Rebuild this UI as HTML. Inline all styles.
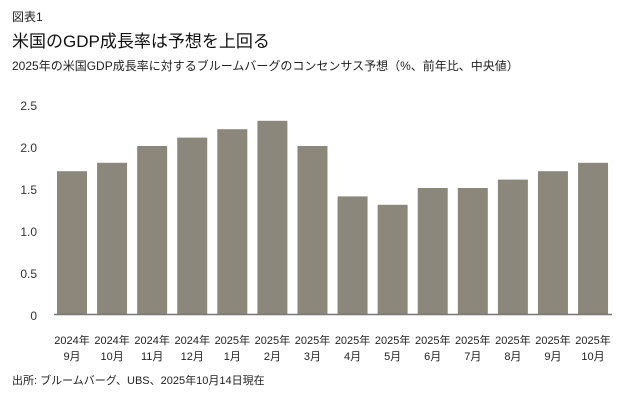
<!DOCTYPE html>
<html><head><meta charset="utf-8"><style>
body{margin:0;background:#fff;width:631px;height:403px;overflow:hidden;font-family:"Liberation Sans","Noto Sans CJK JP",sans-serif;color:#222}
</style></head><body>
<svg width="631" height="403" xmlns="http://www.w3.org/2000/svg" font-family="Liberation Sans, Noto Sans CJK JP, sans-serif">
<text x="12" y="21" font-size="12" fill="#222">図表1</text>
<text x="12" y="47" font-size="17" fill="#111">米国のGDP成長率は予想を上回る</text>
<text x="12" y="70" font-size="12" fill="#222">2025年の米国GDP成長率に対するブルームバーグのコンセンサス予想（%、前年比、中央値）</text>
<g font-size="12" fill="#333" text-anchor="end">
<text x="37" y="110">2.5</text><text x="37" y="152">2.0</text><text x="37" y="194">1.5</text>
<text x="37" y="236">1.0</text><text x="37" y="278">0.5</text><text x="37" y="320">0</text>
</g>
<g fill="#8b887b" id="bars"></g>
<line x1="54" y1="314.5" x2="612" y2="314.5" stroke="#777" stroke-width="1.5"/>
<g font-size="11" fill="#222" text-anchor="middle" id="labels"></g>
<text x="12" y="384" font-size="11" fill="#222">出所: ブルームバーグ、UBS、2025年10月14日現在</text>
<script>
var v=[1.7,1.8,2.0,2.1,2.2,2.3,2.0,1.4,1.3,1.5,1.5,1.6,1.7,1.8];
var l=[["2024年","9月"],["2024年","10月"],["2024年","11月"],["2024年","12月"],["2025年","1月"],["2025年","2月"],["2025年","3月"],["2025年","4月"],["2025年","5月"],["2025年","6月"],["2025年","7月"],["2025年","8月"],["2025年","9月"],["2025年","10月"]];
var ns="http://www.w3.org/2000/svg",b=document.getElementById("bars"),g=document.getElementById("labels");
v.forEach(function(d,i){var c=72+i*40.08;var r=document.createElementNS(ns,"rect");
r.setAttribute("x",c-15);r.setAttribute("width",30);r.setAttribute("y",314-d*84);r.setAttribute("height",d*84);b.appendChild(r);
[0,1].forEach(function(k){var t=document.createElementNS(ns,"text");t.setAttribute("x",c);t.setAttribute("y",k?360:344);t.textContent=l[i][k];g.appendChild(t);});});
</script>
</svg>
</body></html>
